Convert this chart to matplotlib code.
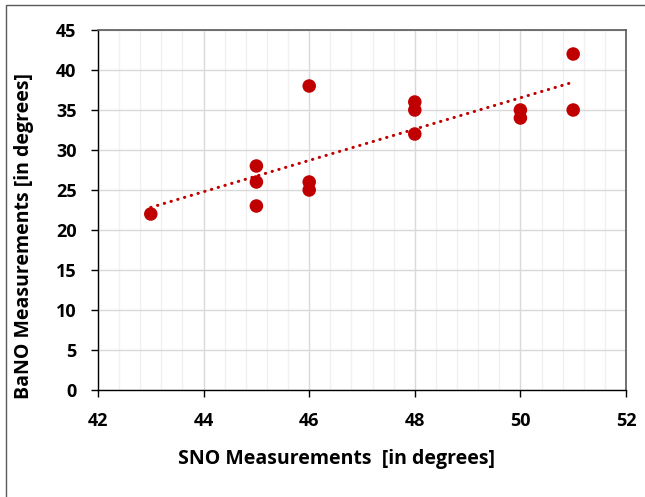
"""Scatter of BaNO vs SNO measurements with a linear trendline (Excel-style)."""

import matplotlib

matplotlib.use("Agg")
import matplotlib.pyplot as plt
import numpy as np
from matplotlib.patches import Rectangle
from matplotlib.ticker import MultipleLocator

plt.rcParams["font.family"] = ["Open Sans", "DejaVu Sans"]

SNO = [43, 45, 45, 45, 46, 46, 46, 48, 48, 48, 50, 50, 51, 51]
BANO = [22, 28, 26, 23, 38, 26, 25, 36, 35, 32, 35, 34, 42, 35]

X_LABEL = "SNO Measurements  [in degrees]"
Y_LABEL = "BaNO Measurements [in degrees]"

RED = "#C00000"
W, H = 645, 497

fig = plt.figure(figsize=(W / 100, H / 100), dpi=100)
ax = fig.add_axes([98 / W, 1 - 390 / H, (626 - 98) / W, (390 - 30) / H])

ax.scatter(SNO, BANO, s=95, color=RED, edgecolors="none", zorder=3)

# linear trendline, spanning the data range like Excel does
slope, icpt = np.polyfit(SNO, BANO, 1)
xs = np.array([min(SNO), max(SNO)])
ax.plot(
    xs,
    slope * xs + icpt,
    color=RED,
    linewidth=2.2,
    linestyle=(0, (0.1, 2.2)),
    dash_capstyle="round",
    zorder=2,
)

ax.set_xlim(42, 52)
ax.set_ylim(0, 45)
ax.xaxis.set_major_locator(MultipleLocator(2))
ax.xaxis.set_minor_locator(MultipleLocator(0.4))
ax.yaxis.set_major_locator(MultipleLocator(5))

ax.grid(which="major", color="#d9d9d9", linewidth=1.0, zorder=0)
ax.grid(which="minor", axis="x", color="#f0f0f0", linewidth=1.0, zorder=0)
ax.set_axisbelow(True)

ax.tick_params(which="major", direction="out", length=5, width=1, pad=10.5,
               labelsize=13, color="#000000")
ax.tick_params(which="minor", length=0)
for lbl in ax.get_xticklabels() + ax.get_yticklabels():
    lbl.set_fontweight("bold")

for side in ("left", "bottom"):
    ax.spines[side].set_color("#000000")
    ax.spines[side].set_linewidth(1.0)
for side in ("top", "right"):
    ax.spines[side].set_color("#595959")
    ax.spines[side].set_linewidth(1.2)

fig.text(337 / W, 1 - 459 / H, X_LABEL, ha="center", va="center",
         fontsize=14, fontweight="bold")
fig.text(24 / W, 1 - 236 / H, Y_LABEL, ha="center", va="center",
         rotation=90, fontsize=14, fontweight="bold")

# chart-area border (runs off the right and bottom of the image)
fig.add_artist(Rectangle((6 / W, -0.05), 1.1, 1.05 - 5 / H,
                         transform=fig.transFigure, fill=False,
                         edgecolor="#595959", linewidth=1.0, clip_on=False))

fig.savefig("out.png", dpi=100)
